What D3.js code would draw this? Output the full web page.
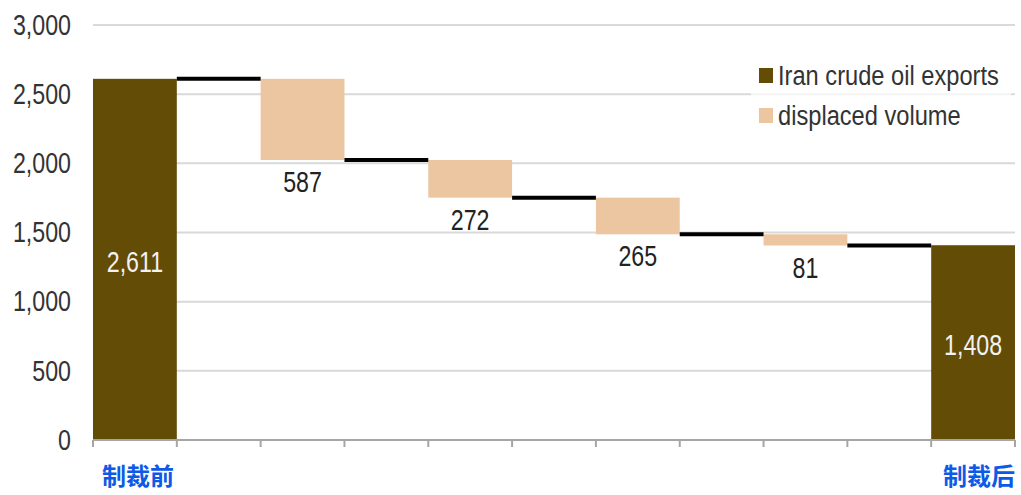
<!DOCTYPE html>
<html>
<head>
<meta charset="utf-8">
<script src="https://cdn.jsdelivr.net/npm/d3@7"></script>
<style>
  body { margin: 0; background: #fff; }
  svg text { font-family: "Liberation Sans", Arial, sans-serif; }
</style>
</head>
<body>
<div id="chart"></div>
<script>
// dados
const categories = ["制裁前", "s1", "d1", "s2", "d2", "s3", "d3", "s4", "d4", "s5", "制裁后"];
const startValue = 2611;
const endValue = 1408;
const displaced = [587, 272, 265, 81];
const yTicks = [0, 500, 1000, 1500, 2000, 2500, 3000];
const legendLabels = ["Iran crude oil exports", "displaced volume"];

const colorMain = "#634c06";
const colorDisp = "#ebc6a1";
const narrow = 0.8; // fonte estreita simulada

// dimensões
const W = 1021, H = 495;
const margin = { top: 25, right: 6, bottom: 55, left: 93 };
const width = W - margin.left - margin.right;
const height = H - margin.top - margin.bottom;

const svg = d3.select("#chart").append("svg")
  .attr("width", W)
  .attr("height", H)
  .append("g")
  .attr("transform", `translate(${margin.left},${margin.top})`);

const x = d3.scaleBand().domain(categories).range([0, width]).padding(0);
const y = d3.scaleLinear().domain([0, 3000]).range([height, 0]);

// texto estreito numa posição
function narrowText(sel, px, py, k = narrow) {
  return sel.attr("x", 0).attr("y", 0)
    .attr("transform", `translate(${px},${py}) scale(${k},1)`);
}

// grade
svg.append("g")
  .selectAll("line")
  .data(yTicks.filter(d => d > 0))
  .join("line")
  .attr("x1", 0).attr("x2", width)
  .attr("y1", d => y(d)).attr("y2", d => y(d))
  .attr("stroke", "#d9d9d9")
  .attr("stroke-width", 2);

// eixo y
const yAxis = svg.append("g")
  .call(d3.axisLeft(y).tickValues(yTicks).tickFormat(d3.format(",")).tickSize(0).tickPadding(22 / narrow));
yAxis.select(".domain").remove();
yAxis.selectAll("text")
  .attr("transform", `scale(${narrow},1)`)
  .style("font-size", "29px")
  .style("font-family", "'Liberation Sans', Arial, sans-serif")
  .attr("fill", "#333");

// níveis acumulados
const levels = [startValue];
displaced.forEach(d => levels.push(levels[levels.length - 1] - d));

// barras principais
const mainBars = [
  { cat: categories[0], value: startValue },
  { cat: categories[10], value: endValue }
];
svg.selectAll(".main-bar")
  .data(mainBars)
  .join("rect")
  .attr("class", "main-bar")
  .attr("x", d => x(d.cat))
  .attr("width", x.bandwidth())
  .attr("y", d => y(d.value))
  .attr("height", d => y(0) - y(d.value))
  .attr("fill", colorMain);

svg.selectAll(".main-label")
  .data(mainBars)
  .join("text")
  .attr("class", "main-label")
  .each(function (d) {
    narrowText(d3.select(this), x(d.cat) + x.bandwidth() / 2, y(d.value / 2) + 2);
  })
  .attr("dy", "0.35em")
  .attr("text-anchor", "middle")
  .attr("fill", "#f2f2f2")
  .style("font-size", "29px")
  .text(d => d3.format(",")(d.value));

// barras deslocadas
const dispData = displaced.map((d, i) => ({
  cat: categories[2 + i * 2], top: levels[i], bottom: levels[i + 1], value: d
}));
svg.selectAll(".disp-bar")
  .data(dispData)
  .join("rect")
  .attr("class", "disp-bar")
  .attr("x", d => x(d.cat))
  .attr("width", x.bandwidth())
  .attr("y", d => y(d.top))
  .attr("height", d => y(d.bottom) - y(d.top))
  .attr("fill", colorDisp);

svg.selectAll(".disp-label")
  .data(dispData)
  .join("text")
  .attr("class", "disp-label")
  .each(function (d) {
    narrowText(d3.select(this), x(d.cat) + x.bandwidth() / 2, y(d.bottom) + 22);
  })
  .attr("dy", "0.35em")
  .attr("text-anchor", "middle")
  .attr("fill", "#222")
  .style("font-size", "29px")
  .text(d => d.value);

// linhas de conexão
svg.selectAll(".connector")
  .data(levels)
  .join("line")
  .attr("class", "connector")
  .attr("x1", (d, i) => x(categories[1 + i * 2]))
  .attr("x2", (d, i) => x(categories[1 + i * 2]) + x.bandwidth())
  .attr("y1", d => y(d)).attr("y2", d => y(d))
  .attr("stroke", "#000")
  .attr("stroke-width", 4);

// eixo x
const xAxis = svg.append("g")
  .attr("transform", `translate(0,${height})`);
xAxis.append("line")
  .attr("x1", 0).attr("x2", width)
  .attr("stroke", "#a6a6a6").attr("stroke-width", 2);
xAxis.selectAll(".tick-mark")
  .data(categories.map(c => x(c)).concat([width]))
  .join("line")
  .attr("class", "tick-mark")
  .attr("x1", d => d).attr("x2", d => d)
  .attr("y1", 0).attr("y2", 7)
  .attr("stroke", "#a6a6a6").attr("stroke-width", 2);

xAxis.selectAll(".x-label")
  .data([categories[0], categories[10]])
  .join("text")
  .attr("class", "x-label")
  .attr("x", (d, i) => x(d) + x.bandwidth() / 2 + (i === 0 ? 3 : 6))
  .attr("y", 45)
  .attr("text-anchor", "middle")
  .attr("fill", "#0d5ae6")
  .style("font-family", "'Noto Sans CJK SC', sans-serif")
  .style("font-weight", "bold")
  .style("font-size", "24px")
  .text(d => d);

// legenda
const legend = svg.append("g")
  .attr("transform", `translate(${759 - margin.left},${68 - margin.top})`);
legend.append("rect")
  .attr("x", -8).attr("y", -10)
  .attr("width", 260).attr("height", 70)
  .attr("fill", "#fff").attr("opacity", 0.7);
legendLabels.forEach((l, i) => {
  legend.append("rect")
    .attr("x", 0).attr("y", i * 40)
    .attr("width", 14).attr("height", 15)
    .attr("fill", i === 0 ? colorMain : colorDisp);
  narrowText(legend.append("text"), 19, i * 40 + 17, 0.845)
    .attr("fill", "#333")
    .style("font-size", "28px")
    .text(l);
});
</script>
</body>
</html>
